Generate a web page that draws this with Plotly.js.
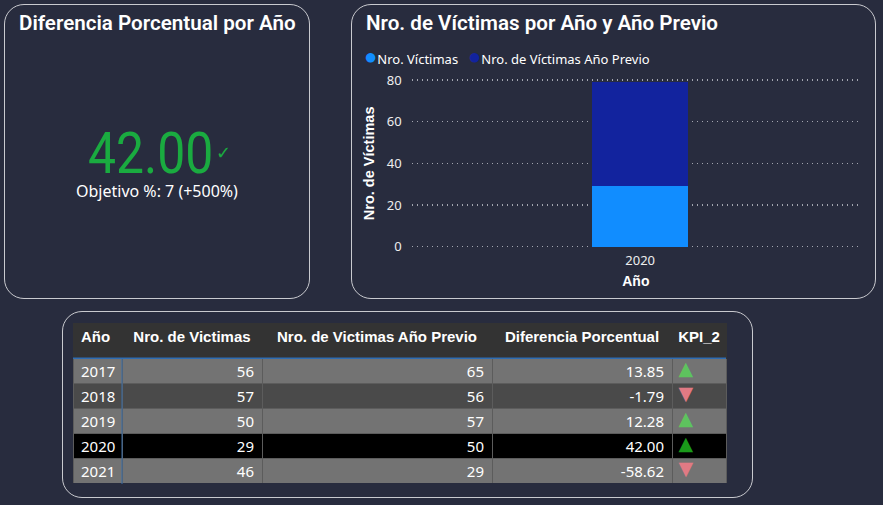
<!DOCTYPE html>
<html><head><meta charset="utf-8">
<script src="https://cdn.plot.ly/plotly-3.0.1.min.js"></script>
<style>
html,body{margin:0;padding:0;background:#282c3e;width:883px;height:505px;overflow:hidden;}
.card{position:absolute;box-sizing:border-box;border:1.3px solid #c9cacf;border-radius:20px;}
#plot{position:absolute;left:0;top:0;width:883px;height:505px;}
</style></head><body>
<div class="card" style="left:3.5px;top:3.5px;width:306px;height:295px"></div>
<div class="card" style="left:351px;top:3.5px;width:525px;height:295px"></div>
<div class="card" style="left:62px;top:311px;width:691px;height:186.5px"></div>
<div id="plot"></div>
<script>
// ---- data ----
const years = [2017, 2018, 2019, 2020, 2021];
const victimas = [56, 57, 50, 29, 46];
const victimasPrevio = [65, 56, 57, 50, 29];
const difPorcentual = [13.85, -1.79, 12.28, 42.00, -58.62];
const selectedYear = 2020;
const objetivo = 7;
const objetivoDelta = 500;
const seriesNames = ['Nro. Víctimas', 'Nro. de Víctimas Año Previo'];
const seriesColors = ['#118DFF', '#12239E'];
const tableHeaders = ['Año', 'Nro. de Victimas', 'Nro. de Victimas Año Previo', 'Diferencia Porcentual', 'KPI_2'];
const yTicks = [0, 20, 40, 60, 80];

// ---- helpers (pixel -> paper) ----
const W = 883, H = 505;
const px = x => x / W;
const py = y => 1 - y / H;

const sel = years.indexOf(selectedYear);
const titleFont = {family: 'Roboto, sans-serif', size: 20.6, color: '#ffffff', weight: 600};
const bodyFamily = 'Noto Sans, Open Sans, sans-serif';
const boldFamily = 'Liberation Sans, Arial, sans-serif';

// ---- bar chart ----
const barTraces = [
  {type: 'bar', x: [String(selectedYear)], y: [victimas[sel]], name: seriesNames[0],
   marker: {color: seriesColors[0]}, width: 0.6, showlegend: false, xaxis: 'x', yaxis: 'y',
   hoverinfo: 'y+name'},
  {type: 'bar', x: [String(selectedYear)], y: [victimasPrevio[sel]], name: seriesNames[1],
   marker: {color: seriesColors[1]}, width: 0.6, showlegend: false, xaxis: 'x', yaxis: 'y',
   hoverinfo: 'y+name'}
];

// ---- table ----
const rowFill = years.map((y, i) => y === selectedYear ? '#000000' : (i % 2 ? '#4a4a4a' : '#737373'));
const kpiColor = difPorcentual.map((d, i) => d < 0 ? '#e07a84' : (years[i] === selectedYear ? '#1a9a1a' : '#5ec35e'));
const kpiText = difPorcentual.map(d => d >= 0 ? '▲' : '▼');
const tableTrace = {
  type: 'table',
  domain: {x: [px(73), px(726)], y: [py(484), py(323)]},
  columnwidth: [49, 140, 230, 180, 54],
  header: {
    values: tableHeaders,
    align: ['left', 'center', 'center', 'center', 'center'],
    fill: {color: '#333333'},
    line: {color: '#333333', width: 1},
    font: {family: boldFamily, size: 15, color: '#ffffff', weight: 'bold'},
    height: 35
  },
  cells: {
    values: [years, victimas, victimasPrevio, difPorcentual.map(d => d.toFixed(2)), kpiText.map(() => '')],
    align: ['left', 'right', 'right', 'right', 'left'],
    fill: {color: [rowFill, rowFill, rowFill, rowFill, rowFill]},
    line: {color: '#5c5c5c', width: 1},
    font: {family: bodyFamily, size: 15, color: '#ffffff'},
    height: 25
  }
};
// KPI arrows drawn as a transparent overlay column (raised slightly to centre the glyphs in their rows)
const kpiTrace = {
  type: 'table',
  domain: {x: [px(670.5), px(724.5)], y: [py(479), py(318)]},
  columnwidth: [54],
  header: {values: [''], fill: {color: 'rgba(0,0,0,0)'}, line: {color: 'rgba(0,0,0,0)', width: 0}, height: 35},
  cells: {
    values: [kpiText], align: ['left'],
    fill: {color: 'rgba(0,0,0,0)'}, line: {color: 'rgba(0,0,0,0)', width: 0},
    font: {family: 'DejaVu Sans, sans-serif', size: 19, color: [kpiColor]},
    height: 25
  }
};

// ---- annotations ----
const annotations = [
  {text: 'Diferencia Porcentual por Año', x: px(16.5), y: py(23), xref: 'paper', yref: 'paper',
   xanchor: 'left', yanchor: 'middle', showarrow: false, font: titleFont},
  {text: 'Nro. de Víctimas por Año y Año Previo', x: px(363.5), y: py(23), xref: 'paper', yref: 'paper',
   xanchor: 'left', yanchor: 'middle', showarrow: false, font: titleFont},
  {text: difPorcentual[sel].toFixed(2), x: px(150), y: py(153), xref: 'paper', yref: 'paper',
   xanchor: 'center', yanchor: 'middle', showarrow: false, height: 45,
   font: {family: 'Roboto, sans-serif', size: 57, color: '#1AAB40'}},
  {text: '✓', x: px(223), y: py(152), xref: 'paper', yref: 'paper',
   xanchor: 'center', yanchor: 'middle', showarrow: false,
   font: {family: 'DejaVu Sans, sans-serif', size: 18, color: '#1AAB40'}},
  {text: 'Objetivo %: ' + objetivo + ' (+' + objetivoDelta + '%)', x: px(157), y: py(190.5), xref: 'paper', yref: 'paper',
   xanchor: 'center', yanchor: 'middle', showarrow: false,
   font: {family: bodyFamily, size: 16, color: '#ffffff'}},
  {text: '<span style="color:' + seriesColors[0] + ';font-size:22px">●</span>' + seriesNames[0],
   x: px(362), y: py(55), xref: 'paper', yref: 'paper', xanchor: 'left', yanchor: 'middle', showarrow: false,
   font: {family: bodyFamily, size: 13, color: '#ffffff'}},
  {text: '<span style="color:' + seriesColors[1] + ';font-size:22px">●</span>' + seriesNames[1],
   x: px(465.5), y: py(55), xref: 'paper', yref: 'paper', xanchor: 'left', yanchor: 'middle', showarrow: false,
   font: {family: bodyFamily, size: 13, color: '#ffffff'}}
];

const shapes = [
  {type: 'line', xref: 'paper', yref: 'paper', x0: px(73), x1: px(726), y0: py(358.3), y1: py(358.3),
   line: {color: '#2f6db3', width: 1.5}},
  {type: 'line', xref: 'paper', yref: 'paper', x0: px(122), x1: px(122), y0: py(359), y1: py(484),
   line: {color: '#3a6ea8', width: 1}}
];

// y scale: 0 -> 246.7px, 80 -> 80px; range padded slightly so edge gridlines are drawn
const yPad = 0.5, yPx = (246.7 - 80) / 80;
const layout = {
  width: W, height: H,
  margin: {l: 0, r: 0, t: 0, b: 0},
  paper_bgcolor: 'rgba(0,0,0,0)', plot_bgcolor: 'rgba(0,0,0,0)',
  barmode: 'stack',
  showlegend: false,
  font: {family: bodyFamily, color: '#ffffff'},
  xaxis: {
    domain: [px(411.7), px(860)], type: 'category', range: [-1.432, 1.378],
    showgrid: false, zeroline: false, showline: false, ticks: '', automargin: false,
    ticklabelstandoff: 3,
    tickfont: {family: bodyFamily, size: 13, color: '#eeeeee'},
    title: {text: 'Año', standoff: 8,
            font: {family: boldFamily, size: 14, color: '#ffffff', weight: 'bold'}}
  },
  yaxis: {
    domain: [py(246.7 + yPad * yPx), py(80 - yPad * yPx)], range: [-yPad, 80 + yPad],
    tickvals: yTicks, automargin: false,
    showgrid: true, gridcolor: '#a3a6b0', griddash: '1.5px,3.5px', gridwidth: 1.2,
    zeroline: false, showline: false, ticks: '', ticklabelstandoff: 9,
    tickfont: {family: bodyFamily, size: 13, color: '#eeeeee'},
    title: {text: 'Nro. de Víctimas', standoff: 8,
            font: {family: boldFamily, size: 14.5, color: '#ffffff', weight: 'bold'}}
  },
  annotations: annotations,
  shapes: shapes
};

Plotly.newPlot('plot', barTraces.concat([tableTrace, kpiTrace]), layout, {displayModeBar: false, staticPlot: true})
  .then(() => {
    // DIN-like condensed look for the KPI number
    const ann = document.querySelectorAll('#plot .annotation')[2];
    if (!ann) return;
    const t = ann.querySelector('text');
    const bb = t.getBBox();
    const cx = bb.x + bb.width / 2;
    const prev = t.getAttribute('transform') || '';
    t.setAttribute('transform', prev + ' translate(' + cx + ',0) scale(0.875,1) translate(' + (-cx) + ',0)');
  });
</script>
</body></html>
